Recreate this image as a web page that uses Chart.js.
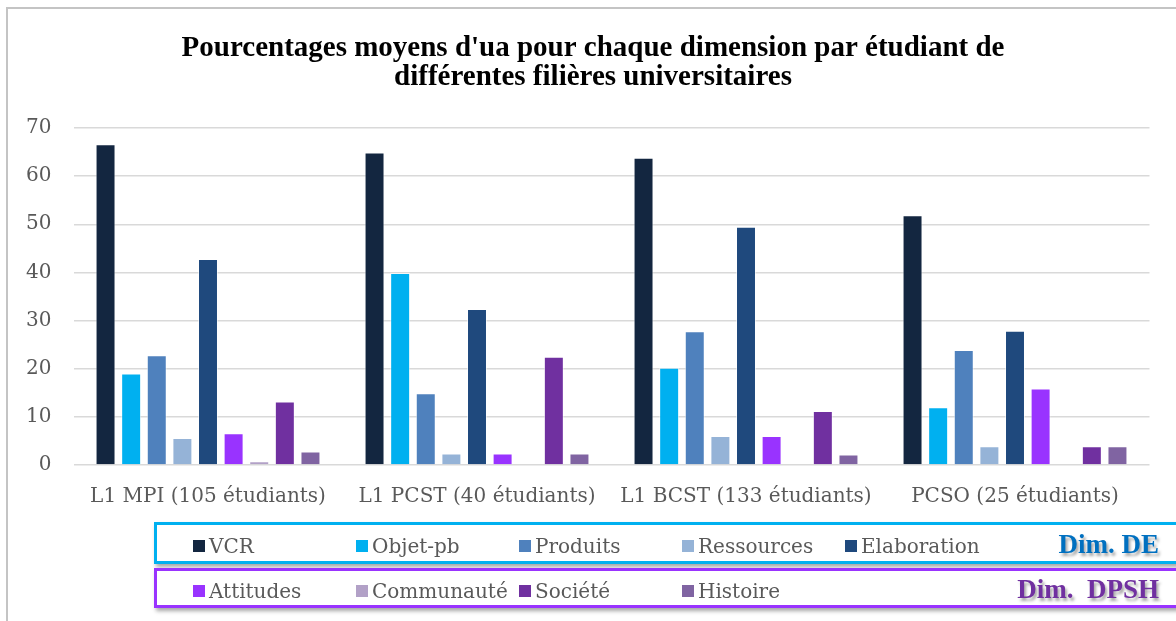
<!DOCTYPE html>
<html lang="fr">
<head>
<meta charset="utf-8">
<script src="https://cdn.jsdelivr.net/npm/chart.js@4.4.1/dist/chart.umd.min.js"></script>
<style>
  html, body { margin: 0; padding: 0; background: #fff; overflow: hidden; }
  #wrap { position: relative; width: 1176px; height: 621px; overflow: hidden; }
  #cadre { position: absolute; left: 6px; top: 7px; width: 1300px; height: 800px;
           border: 2px solid #c4c4c4; box-sizing: border-box; }
  #graph { position: absolute; left: 0; top: 0; }
  .boite { position: absolute; left: 154px; width: 1040px; box-sizing: border-box;
           background: #fff; box-shadow: 2px 3px 4px rgba(0,0,0,0.35); }
  #boiteDE { top: 522px; height: 42px; border: 3.5px solid #00b0f0; }
  #boiteDPSH { top: 568px; height: 40px; border: 3.5px solid #9933ff; }
  .item { position: absolute; top: calc(50% + 3px); transform: translateY(-50%); white-space: nowrap;
          font-family: "DejaVu Serif", serif; font-size: 20px; color: #595959; }
  .item span.carre { display: inline-block; width: 12px; height: 12px; margin-right: 4px;
                     vertical-align: 1px; }
  .dim { position: absolute; top: calc(50% + 1px); transform: translateY(-50%); right: 32px; white-space: pre;
         font-family: "Liberation Serif", serif; font-weight: bold; font-size: 27px;
         text-shadow: 2px 3px 3px rgba(0,0,0,0.35); }
</style>
</head>
<body>
<div id="wrap">
  <div id="cadre"></div>
  <canvas id="graph" width="1186" height="621"></canvas>
  <div id="boiteDE" class="boite"><div class="dim" style="color:#0070c0">Dim. DE</div></div>
  <div id="boiteDPSH" class="boite"><div class="dim" style="color:#7030a0">Dim.  DPSH</div></div>
</div>
<script>
// Données
const categories = ["L1 MPI (105 étudiants)", "L1 PCST (40 étudiants)", "L1 BCST (133 étudiants)", "PCSO (25 étudiants)"];
const seriesNoms = ["VCR", "Objet-pb", "Produits", "Ressources", "Elaboration", "Attitudes", "Communauté", "Société", "Histoire"];
const vcr = [66.6, 64.9, 63.8, 51.9];
const objetPb = [19.0, 39.9, 20.2, 12.0];
const produits = [22.8, 14.9, 27.8, 23.9];
const ressources = [5.6, 2.4, 6.0, 3.9];
const elaboration = [42.8, 32.4, 49.5, 27.9];
const attitudes = [6.6, 2.4, 6.0, 15.9];
const communaute = [0.8, 0, 0, 0];
const societe = [13.2, 22.5, 11.2, 3.9];
const histoire = [2.8, 2.4, 2.2, 3.9];
const yTicks = [0, 10, 20, 30, 40, 50, 60, 70];

// Styles
const couleurs = ["#132640", "#00b0f0", "#4f81bd", "#95b3d7", "#1f497d", "#9933ff", "#b2a1c7", "#7030a0", "#8064a2"];
const valeurs = [vcr, objetPb, produits, ressources, elaboration, attitudes, communaute, societe, histoire];
// 5 premières séries -> Dim. DE, les 4 autres -> Dim. DPSH
const groupeLegende = [0, 0, 0, 0, 0, 1, 1, 1, 1];
const colonnesLegende = [36, 199, 362, 525, 688];

const datasets = seriesNoms.map((nom, i) => ({
  label: nom,
  data: valeurs[i],
  backgroundColor: couleurs[i],
  borderColor: "rgba(255,255,255,0.55)",
  borderWidth: 1,
  categoryPercentage: 0.857,
  barPercentage: 0.78
}));

const policeAxe = { family: "DejaVu Serif", size: 20, lineHeight: 1.2 };

const chart = new Chart(document.getElementById("graph").getContext("2d"), {
  type: "bar",
  data: { labels: categories, datasets: datasets },
  options: {
    responsive: false,
    animation: false,
    layout: { padding: { left: 0, right: 0, top: 0, bottom: 106 } },
    plugins: {
      legend: { display: false },
      tooltip: { enabled: false },
      title: {
        display: true,
        text: ["Pourcentages moyens d'ua pour chaque dimension par étudiant de", "différentes filières universitaires"],
        color: "#000",
        font: { family: "Liberation Serif", size: 29, weight: "bold", lineHeight: 1.0 },
        padding: { top: 34, bottom: 36 }
      }
    },
    scales: {
      x: {
        grid: { display: false, drawTicks: false },
        border: { display: false },
        ticks: { color: "#595959", font: policeAxe, padding: 20, maxRotation: 0, autoSkip: false },
        afterFit: (s) => { s.height = 50; }
      },
      y: {
        min: 0,
        max: 70,
        afterBuildTicks: (s) => { s.ticks = yTicks.map(v => ({ value: v })); },
        grid: { color: "#d9d9d9", lineWidth: 1.5, drawTicks: false },
        border: { display: false },
        ticks: { color: "#595959", font: policeAxe, padding: 22 },
        afterFit: (s) => { s.width = 73.5; }
      },
      // marge droite vide (le titre reste centré sur toute la largeur)
      y2: {
        position: "right",
        grid: { display: false },
        border: { display: false },
        ticks: { display: false },
        afterFit: (s) => { s.width = 36.5; }
      }
    }
  }
});

// Légende en deux boîtes, construite à partir des séries du graphique
const boites = [document.getElementById("boiteDE"), document.getElementById("boiteDPSH")];
const compteurs = [0, 0];
chart.data.datasets.forEach((ds, i) => {
  const g = groupeLegende[i];
  const div = document.createElement("div");
  div.className = "item";
  div.style.left = colonnesLegende[compteurs[g]++] + "px";
  div.innerHTML = '<span class="carre" style="background:' + ds.backgroundColor + '"></span>' + ds.label;
  boites[g].appendChild(div);
});
</script>
</body>
</html>
